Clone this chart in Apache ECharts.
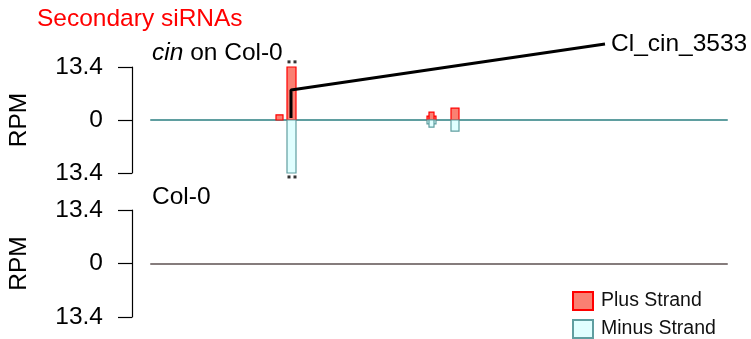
<!DOCTYPE html>
<html>
<head>
<meta charset="utf-8">
<script src="https://cdn.jsdelivr.net/npm/echarts@6/dist/echarts.min.js"></script>
<style>
  html, body { margin: 0; padding: 0; background: #fff; }
  #chart { width: 751px; height: 339px; }
</style>
</head>
<body>
<div id="chart"></div>
<script>
// positions along the locus (start, end) and RPM
const plusBars = [
  [125, 132, 1.3],
  [136, 145, 13.4],
  [276, 285, 1.0],
  [278, 283, 2.0],
  [300, 308, 3.0]
]
const minusBars = [
  [136, 145, -13.4],
  [276, 285, -1.0],
  [278, 283, -1.8],
  [300, 308, -2.8]
]
const yTicks = [-13.4, 0, 13.4]
const annotLine = [[140, 0.5], [140, 7.6], [454, 19.2]]
const annotName = 'Cl_cin_3533'
const bracketDots = [[138, 14.7], [144, 14.7], [138, -14.4], [144, -14.4]]

const font = 'Liberation Sans, Arial, Helvetica, sans-serif'
const fs = 24.5

function renderBar(params, api) {
  const x0 = api.value(0)
  const x1 = api.value(1)
  const v = api.value(2)
  const a = api.coord([x0, v])
  const b = api.coord([x1, 0])
  return {
    type: 'rect',
    shape: {
      x: a[0],
      y: Math.min(a[1], b[1]),
      width: b[0] - a[0],
      height: Math.abs(b[1] - a[1])
    },
    style: api.style()
  }
}

function yAxisFor(gridIndex) {
  return {
    gridIndex: gridIndex,
    type: 'value',
    min: yTicks[0],
    max: yTicks[2],
    interval: 13.4,
    offset: 19,
    name: 'RPM',
    nameLocation: 'middle',
    nameRotate: 90,
    nameGap: 100,
    nameMoveOverlap: false,
    nameTextStyle: { fontSize: fs, color: '#000', fontFamily: font },
    splitLine: { show: false },
    axisLine: { show: true, onZero: false, lineStyle: { color: '#000', width: 1.2 } },
    axisTick: { show: true, length: 14, lineStyle: { color: '#000', width: 1.2 } },
    axisLabel: {
      margin: 29,
      fontSize: fs,
      color: '#000',
      fontFamily: font,
      formatter: v => Math.abs(v).toString()
    }
  }
}

function xAxisFor(gridIndex, color) {
  return {
    gridIndex: gridIndex,
    type: 'value',
    min: 0,
    max: 576,
    splitLine: { show: false },
    axisTick: { show: false },
    axisLabel: { show: false },
    axisLine: { show: true, onZero: true, lineStyle: { color: color, width: 2 } }
  }
}

const chart = echarts.init(document.getElementById('chart'))
chart.setOption({
  animation: false,
  title: [
    {
      text: 'Secondary siRNAs',
      left: 37, top: 7, padding: 0,
      textStyle: { color: '#ff0000', fontSize: fs, fontWeight: 'normal', fontFamily: font }
    },
    {
      text: '{i|cin} on Col-0',
      left: 152, top: 41, padding: 0,
      textStyle: {
        color: '#000', fontSize: fs, fontWeight: 'normal', fontFamily: font,
        rich: { i: { fontStyle: 'italic', fontSize: fs, fontFamily: font, color: '#000' } }
      }
    },
    {
      text: 'Col-0',
      left: 152, top: 185, padding: 0,
      textStyle: { color: '#000', fontSize: fs, fontWeight: 'normal', fontFamily: font }
    }
  ],
  legend: {
    orient: 'vertical',
    left: 572, top: 291,
    padding: 0,
    itemWidth: 20, itemHeight: 18, itemGap: 8,
    icon: 'rect',
    textStyle: { fontSize: 19.5, color: '#111', fontFamily: font, padding: [0, 0, 0, 3] },
    data: ['Plus Strand', 'Minus Strand']
  },
  grid: [
    { left: 151, right: 24, top: 67, height: 106, outerBoundsMode: 'none', containLabel: false },
    { left: 151, right: 24, top: 210, height: 107, outerBoundsMode: 'none', containLabel: false }
  ],
  xAxis: [xAxisFor(0, '#5f9ea0'), xAxisFor(1, '#857c7c')],
  yAxis: [yAxisFor(0), yAxisFor(1)],
  series: [
    {
      name: 'Plus Strand',
      type: 'custom',
      xAxisIndex: 0, yAxisIndex: 0,
      renderItem: renderBar,
      encode: { x: [0, 1], y: 2 },
      itemStyle: { color: '#fa8072', borderColor: '#ff0000', borderWidth: 1.2 },
      data: plusBars
    },
    {
      name: 'Minus Strand',
      type: 'custom',
      xAxisIndex: 0, yAxisIndex: 0,
      renderItem: renderBar,
      encode: { x: [0, 1], y: 2 },
      itemStyle: { color: '#e0ffff', borderColor: '#5f9ea0', borderWidth: 1.2 },
      data: minusBars
    },
    {
      name: 'annotation',
      type: 'line',
      xAxisIndex: 0, yAxisIndex: 0,
      clip: false,
      symbol: 'none',
      lineStyle: { color: '#000', width: 3 },
      data: annotLine,
      endLabel: {
        show: true,
        formatter: annotName,
        distance: 6,
        fontSize: fs,
        color: '#000',
        fontFamily: font
      }
    },
    {
      name: 'bracket',
      type: 'scatter',
      xAxisIndex: 0, yAxisIndex: 0,
      clip: false,
      symbol: 'rect',
      symbolSize: 3,
      itemStyle: { color: '#000' },
      data: bracketDots
    }
  ]
})
</script>
</body>
</html>
